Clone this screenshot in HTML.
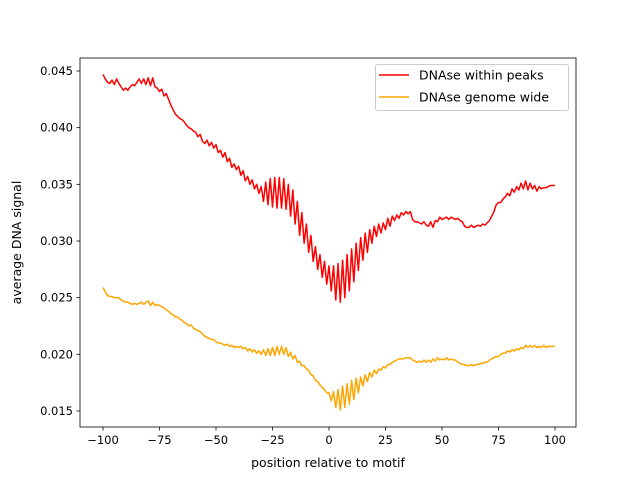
<!DOCTYPE html>
<html><head><meta charset="utf-8"><style>
html,body{margin:0;padding:0;background:#fff;width:640px;height:480px;overflow:hidden}
svg{display:block;font-family:"DejaVu Sans","Liberation Sans",sans-serif}
</style></head><body>
<svg id="chart" width="640" height="480" viewBox="0 0 640 480">
<rect width="640" height="480" fill="#fff"/>
<g id="plot"></g>
</svg>
<script>
const xStart = -100;
const redSeries = [
44.7,44.3,44.0,43.9,44.2,43.8,44.3,43.9,43.6,43.3,
43.5,43.3,43.6,43.8,43.7,44.0,44.3,43.9,44.3,43.8,
44.4,43.7,44.4,43.6,43.5,43.2,43.4,42.8,43.0,42.5,
42.0,41.6,41.2,41.0,40.8,40.7,40.5,40.2,40.0,39.9,
39.7,39.6,39.2,39.4,38.8,38.6,38.9,38.4,38.7,38.2,
38.5,37.8,38.0,37.4,37.8,37.0,37.3,36.5,36.8,36.3,
36.6,35.8,36.2,35.3,35.7,35.0,35.4,34.6,35.0,34.2,
34.8,33.5,35.2,33.2,35.5,33.0,35.6,32.9,35.6,32.9,
35.5,32.8,35.0,32.2,34.5,31.5,33.5,30.5,32.5,29.8,
31.5,29.0,30.5,28.2,29.5,27.5,28.8,26.8,28.2,26.2,
27.8,25.6,27.8,24.8,28.0,24.6,28.3,25.0,28.8,25.6,
29.3,26.4,29.8,27.4,30.3,28.3,30.7,29.0,31.0,29.8,
31.3,30.4,31.5,30.7,31.6,31.0,32.0,31.3,32.2,31.8,
32.3,32.0,32.5,32.3,32.6,32.4,32.6,31.9,31.7,31.7,
31.6,31.5,31.7,31.4,31.3,31.7,31.2,31.8,31.7,32.1,
31.9,32.0,32.1,31.9,32.1,32.0,31.9,32.0,31.8,31.7,
31.3,31.2,31.2,31.4,31.2,31.3,31.4,31.3,31.5,31.4,
31.6,31.8,32.2,32.6,33.2,33.4,33.4,33.7,33.9,34.2,
34.0,34.6,34.3,34.8,34.5,35.1,34.6,35.3,34.5,35.1,
34.6,34.9,34.4,34.8,34.6,34.7,34.7,34.8,34.9,34.9,34.9];
const orangeSeries = [
25.9,25.5,25.2,25.1,25.1,25.0,25.0,25.0,24.8,24.7,
24.6,24.6,24.5,24.4,24.5,24.4,24.5,24.6,24.4,24.6,
24.7,24.3,24.6,24.3,24.4,24.3,24.2,24.1,23.9,23.8,
23.6,23.5,23.3,23.3,23.1,23.0,22.8,22.7,22.5,22.6,
22.3,22.2,22.1,22.0,21.8,21.6,21.5,21.4,21.3,21.3,
21.1,21.0,21.0,20.9,20.8,20.9,20.7,20.8,20.6,20.7,
20.6,20.7,20.5,20.6,20.3,20.5,20.2,20.4,20.1,20.3,
20.0,20.4,19.9,20.5,19.9,20.6,19.9,20.7,20.0,20.7,
20.0,20.6,19.8,20.2,19.6,19.9,19.3,19.4,19.0,19.0,
18.7,18.6,18.2,18.1,17.7,17.6,17.3,17.1,16.9,16.6,
16.6,15.9,16.7,15.3,16.9,15.1,17.2,15.3,17.4,15.6,
17.7,16.0,17.9,16.6,18.0,17.2,18.2,17.6,18.4,18.0,
18.6,18.3,18.7,18.6,18.9,18.8,19.1,19.1,19.3,19.4,
19.5,19.6,19.6,19.6,19.7,19.7,19.7,19.5,19.4,19.3,
19.4,19.3,19.5,19.3,19.5,19.3,19.6,19.4,19.7,19.5,
19.6,19.5,19.7,19.5,19.6,19.5,19.5,19.3,19.2,19.1,
19.1,19.0,19.0,19.1,19.0,19.1,19.1,19.2,19.2,19.3,
19.3,19.5,19.6,19.7,19.8,19.8,20.0,20.1,20.1,20.3,
20.2,20.4,20.3,20.5,20.4,20.6,20.5,20.8,20.6,20.8,
20.6,20.8,20.6,20.7,20.6,20.8,20.6,20.7,20.7,20.7,20.7];
const valueScale = 1e-3;
const xTicks = [-100,-75,-50,-25,0,25,50,75,100];
const yTicks = [0.015,0.020,0.025,0.030,0.035,0.040,0.045];
const yTickLabels = ["0.015","0.020","0.025","0.030","0.035","0.040","0.045"];
const seriesNames = ["DNAse within peaks","DNAse genome wide"];

const L=80,R=576,T=58,B=427;
const xs = v => 103 + (v + 100) * (452 / 200);
const ys = v => 71 + (0.045 - v) * (340 / 0.030);
const NS="http://www.w3.org/2000/svg";
const g=document.getElementById('plot');
function mk(tag,attrs,parent){const e=document.createElementNS(NS,tag);for(const k in attrs)e.setAttribute(k,attrs[k]);(parent||g).appendChild(e);return e;}

function drawSeries(arr,color,name){
  const pts=arr.map((v,i)=>xs(xStart+i).toFixed(2)+','+ys(v*valueScale).toFixed(2)).join(' ');
  const p=mk('polyline',{points:pts,fill:'none',stroke:color,'stroke-width':1.5,'stroke-linejoin':'round'});
  
  
}
drawSeries(redSeries,'#ff0000','series-dnase-within-peaks');
drawSeries(orangeSeries,'#ffa500','series-dnase-genome-wide');

xTicks.forEach(t=>{
  const x=xs(t);
  const l=mk('line',{x1:x,x2:x,y1:B,y2:B+3.5,stroke:'#000','stroke-width':0.8});
  
  
  const tx=mk('text',{x:x,y:B+17,'text-anchor':'middle','font-size':'11.5px',fill:'#000'});
  tx.textContent=String(t).replace('-','\u2212');
  
  
});
yTicks.forEach((t,i)=>{
  const y=ys(t);
  const l=mk('line',{x1:L-3.5,x2:L,y1:y,y2:y,stroke:'#000','stroke-width':0.8});
  
  
  const tx=mk('text',{x:L-7,y:y+4,'text-anchor':'end','font-size':'11.5px',fill:'#000'});
  tx.textContent=yTickLabels[i];
  
  
});
const frame=mk('rect',{x:L,y:T,width:R-L,height:B-T,fill:'none',stroke:'#000','stroke-width':0.8});



const xt=mk('text',{x:(L+R)/2,y:467,'text-anchor':'middle','font-size':'12.5px'});
xt.textContent='position relative to motif';


const yt=mk('text',{x:0,y:0,'text-anchor':'middle','font-size':'12.5px',transform:'translate(21,'+((T+B)/2)+') rotate(-90)'});
yt.textContent='average DNA signal';



const lg=mk('g',{});


mk('rect',{x:375.5,y:64.5,width:193,height:46,rx:2,fill:'#fff',stroke:'#ccc','stroke-width':1},lg);
const colors=['#ff0000','#ffa500'];
seriesNames.forEach((n,i)=>{
  const y=75+i*22;
  const e=mk('g',{},lg);
  
  
  mk('line',{x1:379,x2:409,y1:y,y2:y,stroke:colors[i],'stroke-width':1.5},e);
  const t=mk('text',{x:419,y:y+4.5,'font-size':'12.5px'},e);
  t.textContent=n;
});
</script>
</body></html>
